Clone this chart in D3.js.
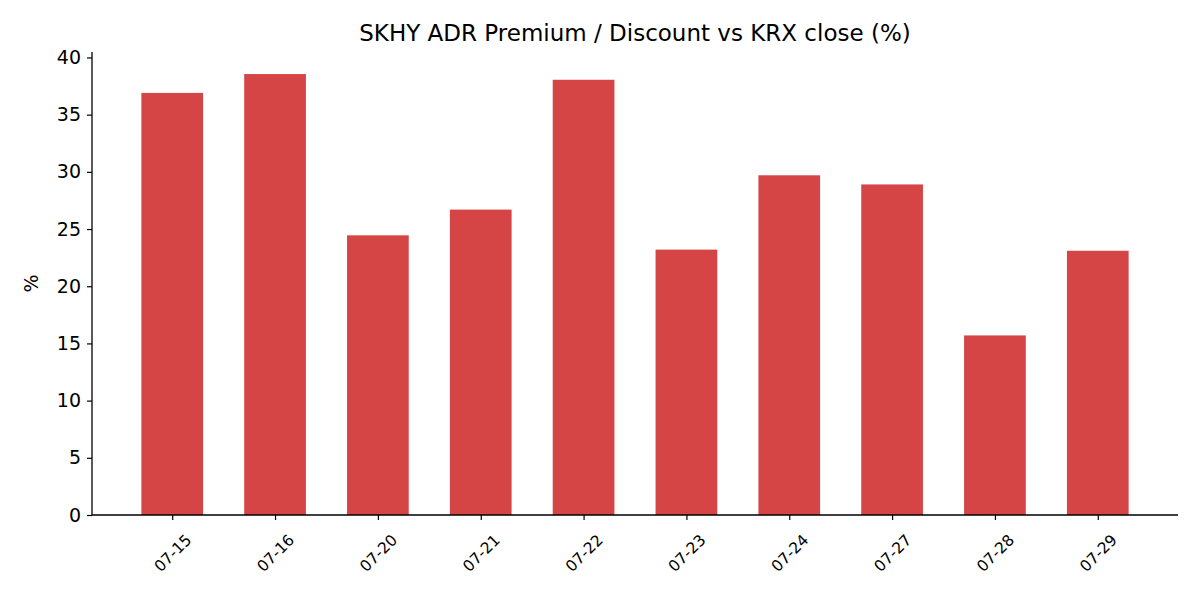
<!DOCTYPE html>
<html>
<head>
<meta charset="utf-8">
<script src="https://cdn.jsdelivr.net/npm/d3@7"></script>
<style>
  body { margin: 0; background: #fff; }
  text { font-family: "DejaVu Sans", sans-serif; fill: #000; }
</style>
</head>
<body>
<svg width="1200" height="600"></svg>
<script>
const dates = ["07-15", "07-16", "07-20", "07-21", "07-22", "07-23", "07-24", "07-27", "07-28", "07-29"];
const premium = [36.9, 38.55, 24.45, 26.7, 38.05, 23.2, 29.7, 28.9, 15.7, 23.1];
const yTicks = [0, 5, 10, 15, 20, 25, 30, 35, 40];

const svg = d3.select("svg");
const width = +svg.attr("width");
const height = +svg.attr("height");
const margin = { top: 52, right: 22, bottom: 85, left: 92 };
const innerWidth = width - margin.left - margin.right;
const innerHeight = height - margin.top - margin.bottom;
const mainGroup = svg.append("g").attr("transform", "translate(" + margin.left + "," + margin.top + ")");

// matplotlib-like layout: bar width 0.6, 5% margins on both axes
const n = dates.length;
const x = d3.scaleLinear().domain([-0.78, n - 1 + 0.78]).range([0, innerWidth]);
const barW = x(0.6) - x(0);
const yscale = d3.scaleLinear().domain([0, d3.max(premium) * 1.05]).range([innerHeight, 0]);

mainGroup.selectAll("rect").data(premium).enter().append("rect")
  .attr("x", (d, i) => x(i) - barW / 2)
  .attr("width", barW)
  .attr("y", d => yscale(d))
  .attr("height", d => innerHeight - yscale(d))
  .attr("fill", "#d64545");

// y axis
const yaxis = d3.axisLeft(yscale).tickValues(yTicks).tickSize(5).tickPadding(6);
const yg = mainGroup.append("g").call(yaxis);
yg.select(".domain").attr("stroke", "#000").attr("stroke-width", 1.3).attr("d", "M0," + innerHeight + "V0");
yg.selectAll(".tick line").attr("stroke", "#000").attr("stroke-width", 1.2);
yg.selectAll(".tick text").style("font-size", "19px");

// x axis
const xaxis = d3.axisBottom(x).tickValues(d3.range(n)).tickFormat(i => dates[i]).tickSize(5);
const xg = mainGroup.append("g").attr("transform", "translate(0," + innerHeight + ")").call(xaxis);
xg.select(".domain").attr("stroke", "#000").attr("stroke-width", 1.3).attr("d", "M0,0H" + innerWidth);
xg.selectAll(".tick line").attr("stroke", "#000").attr("stroke-width", 1.2);
xg.selectAll(".tick text")
  .style("font-size", "15.5px")
  .attr("text-anchor", "middle")
  .attr("y", 0)
  .attr("dy", "0.35em")
  .attr("transform", "translate(0,38) rotate(-45)");

// title and axis label
svg.append("text")
  .attr("x", margin.left + innerWidth / 2)
  .attr("y", 41)
  .attr("text-anchor", "middle")
  .style("font-size", "23px")
  .text("SKHY ADR Premium / Discount vs KRX close (%)");

svg.append("text")
  .attr("transform", "translate(38," + (margin.top + innerHeight / 2) + ") rotate(-90)")
  .attr("text-anchor", "middle")
  .style("font-size", "19px")
  .text("%");
</script>
</body>
</html>
